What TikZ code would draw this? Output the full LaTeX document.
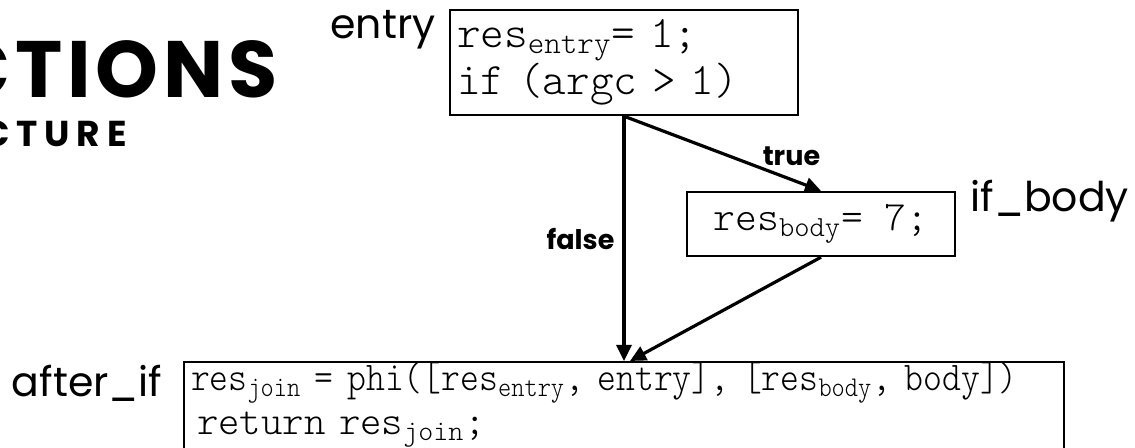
\documentclass[tikz,border=0pt]{standalone}
\usepackage{amsmath}
\usepackage{fontspec}
\setmainfont{Poppins}
\newfontfamily\codefont{lmmonolt10-regular.otf}
\newfontfamily\codenarrow[FakeStretch=0.88]{lmmonolt10-regular.otf}
\newfontfamily\headfont[LetterSpace=6]{Poppins}
\newfontfamily\subheadfont[LetterSpace=19]{Poppins}
\usetikzlibrary{arrows.meta,positioning}
\newcommand\lowtxt[1]{$_{\text{#1}}$}
\begin{document}
\begin{tikzpicture}[x=0.5pt,y=-0.5pt,
  block/.style={draw,line width=1.2pt,inner xsep=3.5pt,inner ysep=0pt,align=left},
  blocklbl/.style={font=\fontsize{20.5}{20.5}\selectfont,inner sep=0pt},
  branch/.style={font=\bfseries\fontsize{13.5}{13.5}\selectfont,inner sep=0pt},
  flow/.style={line width=1.6pt,-{Triangle[length=8pt,width=7.5pt]}}]
\useasboundingbox (0,0) rectangle (1135,448);
\clip (0,0) rectangle (1135,448);
% title, cut at the left edge
\node[anchor=base east,inner sep=0pt,font=\headfont\bfseries\fontsize{40}{40}\selectfont] (title) at (278,98) {CTIONS};
\node[anchor=base east,inner sep=0pt,font=\subheadfont\bfseries\fontsize{18}{18}\selectfont] (subtitle) at (127,147) {CTURE};
% basic blocks
\node[block,minimum width=174pt,minimum height=52.5pt,text width=167pt,
  font=\codefont\fontsize{22.5}{19.5}\selectfont] (entry) at (624,62.5)
  {res\lowtxt{entry}= 1;\\if (argc > 1)};
\node[block,align=center,minimum width=134pt,minimum height=32pt,
  font=\codefont\fontsize{20.8}{20.8}\selectfont] (body) at (821,224)
  {res\lowtxt{body}= 7;};
\node[block,anchor=north,minimum width=440pt,text width=433pt,
  font=\codefont\fontsize{20.4}{22}\selectfont] (join) at (624,361)
  {\codenarrow res\lowtxt{join} = phi([res\lowtxt{entry}, entry], [res\lowtxt{body}, body])\\
   \codefont\hspace{3pt}return res\lowtxt{join};\rule[-9pt]{0pt}{9pt}};
% block names
\node[blocklbl,anchor=base east] (entrylbl) at ([shift={(-13,30)}]entry.north west) {entry};
\node[blocklbl,anchor=base west] (bodylbl) at ([shift={(14,21)}]body.north east) {if\_body};
\node[blocklbl,anchor=base east] (joinlbl) at ([shift={(-20,36)}]join.north west) {after\_if};
% edges
\draw[flow] (entry.south) -- (join.north) node[branch,midway,left=4pt] {false};
\draw[flow] (entry.south) -- (body.north) node[branch,pos=0.85,above=6pt] {true};
\draw[flow] (body.south) -- ([xshift=3pt]join.north);
\end{tikzpicture}
\end{document}
